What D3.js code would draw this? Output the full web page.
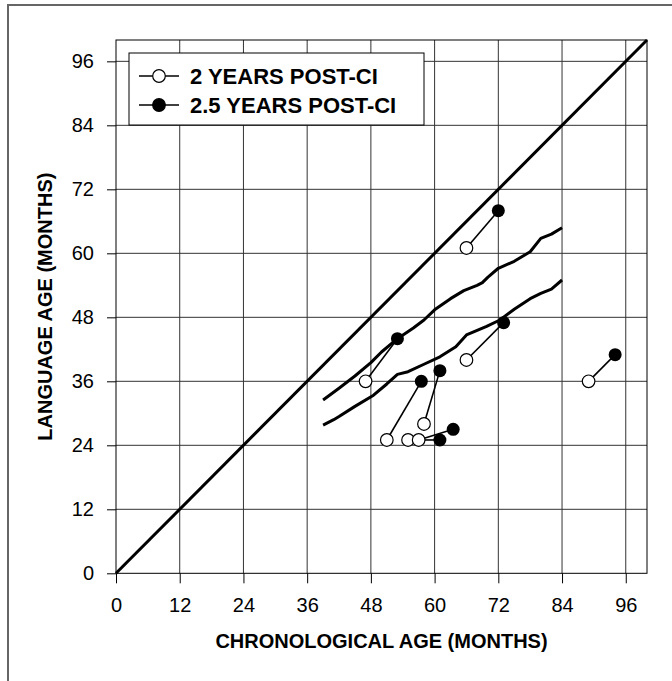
<!DOCTYPE html>
<html>
<head>
<meta charset="utf-8">
<script src="https://cdn.jsdelivr.net/npm/d3@7"></script>
<style>
  body { margin: 0; background: #fff; }
  svg text { font-family: "Liberation Sans", Arial, sans-serif; fill: #000; }
</style>
</head>
<body>
<div id="chart"></div>
<script>
// ticks shared by both axes (months)
const tickMonths = [0, 12, 24, 36, 48, 60, 72, 84, 96];

// each child: 2 years post-CI (open) and 2.5 years post-CI (filled)
const chronAge2yr = [66, 47, 66, 51, 58, 55, 57, 89];
const langAge2yr = [61, 36, 40, 25, 28, 25, 25, 36];
const chronAge25yr = [72, 53, 73, 57.5, 61, 61, 63.5, 94];
const langAge25yr = [68, 44, 47, 36, 38, 25, 27, 41];

// normative band (upper and lower curves)
const upperCurveAge = [39, 42, 45, 48, 50, 53, 56, 58, 60, 63, 65.5, 68, 69, 70, 72, 75, 78, 80, 82, 84];
const upperCurveLang = [32.5, 34.7, 37, 39.5, 41.5, 44, 46, 47.5, 49.4, 51.5, 53, 54, 54.5, 55.5, 57.2, 58.5, 60.3, 62.8, 63.6, 64.8];
const lowerCurveAge = [39, 41, 42, 45, 48.5, 51, 53, 55, 58, 61, 64, 66, 69.8, 72.3, 75, 78, 80, 82, 84];
const lowerCurveLang = [27.8, 28.8, 29.4, 31.3, 33.4, 35.5, 37.3, 37.8, 39.2, 40.6, 42.5, 44.7, 46.3, 47.5, 49.5, 51.5, 52.5, 53.3, 55];

const legendLabels = ["2 YEARS POST-CI", "2.5 YEARS POST-CI"];

class LanguageAgePlot {
    constructor(parentElement) {
        this.parentElement = parentElement;
        this.initVis();
    }

    initVis() {
        let vis = this;
        vis.width = 672;
        vis.height = 681;

        vis.svg = d3.select("#" + vis.parentElement)
            .append("svg")
            .attr("width", vis.width)
            .attr("height", vis.height);

        // outer frame (only top and left show)
        vis.svg.append("path")
            .attr("d", "M8,681 V5 H672")
            .attr("fill", "none")
            .attr("stroke", "#666")
            .attr("stroke-width", 2);

        vis.x = d3.scaleLinear().domain([0, 100]).range([116, 647]);
        vis.y = d3.scaleLinear().domain([0, 100]).range([573.3, 40]);

        vis.drawFrame();
        vis.drawData();
        vis.drawLegend();
    }

    drawFrame() {
        let vis = this;
        let grid = vis.svg.append("g").attr("class", "grid");

        grid.selectAll(".vgrid")
            .data(tickMonths.slice(1))
            .enter().append("line")
            .attr("x1", d => vis.x(d)).attr("x2", d => vis.x(d))
            .attr("y1", vis.y(0)).attr("y2", vis.y(100))
            .attr("stroke", "#333").attr("stroke-width", 1);

        grid.selectAll(".hgrid")
            .data(tickMonths.slice(1))
            .enter().append("line")
            .attr("y1", d => vis.y(d)).attr("y2", d => vis.y(d))
            .attr("x1", vis.x(0)).attr("x2", vis.x(100))
            .attr("stroke", "#333").attr("stroke-width", 1);

        vis.svg.append("rect")
            .attr("x", vis.x(0)).attr("y", vis.y(100))
            .attr("width", vis.x(100) - vis.x(0))
            .attr("height", vis.y(0) - vis.y(100))
            .attr("fill", "none")
            .attr("stroke", "#000").attr("stroke-width", 1);

        let xAxis = vis.svg.append("g")
            .attr("transform", "translate(0," + vis.y(0) + ")")
            .call(d3.axisBottom(vis.x).tickValues(tickMonths).tickSize(10).tickPadding(15).tickSizeOuter(0));
        let yAxis = vis.svg.append("g")
            .attr("transform", "translate(" + vis.x(0) + ",0)")
            .call(d3.axisLeft(vis.y).tickValues(tickMonths).tickSize(9).tickPadding(13).tickSizeOuter(0));

        [xAxis, yAxis].forEach(a => {
            a.select(".domain").remove();
            a.selectAll(".tick line").attr("stroke", "#000");
            a.selectAll("text")
                .style("font-family", "'Liberation Sans', Arial, sans-serif")
                .style("font-size", "20px");
        });

        vis.svg.append("text")
            .attr("x", (vis.x(0) + vis.x(100)) / 2)
            .attr("y", 648)
            .attr("text-anchor", "middle")
            .style("font-size", "20px")
            .style("font-weight", "bold")
            .text("CHRONOLOGICAL AGE (MONTHS)");

        vis.svg.append("text")
            .attr("transform", "translate(52," + ((vis.y(0) + vis.y(100)) / 2) + ") rotate(-90)")
            .attr("text-anchor", "middle")
            .style("font-size", "20px")
            .style("font-weight", "bold")
            .text("LANGUAGE AGE (MONTHS)");
    }

    drawData() {
        let vis = this;
        let line = d3.line().x(d => vis.x(d[0])).y(d => vis.y(d[1]));

        // age-equivalent diagonal
        vis.svg.append("path")
            .attr("d", line([[0, 0], [100, 100]]))
            .attr("fill", "none").attr("stroke", "#000").attr("stroke-width", 3);

        let upper = upperCurveAge.map((a, i) => [a, upperCurveLang[i]]);
        let lower = lowerCurveAge.map((a, i) => [a, lowerCurveLang[i]]);
        [upper, lower].forEach(c => {
            vis.svg.append("path")
                .attr("d", line(c))
                .attr("fill", "none").attr("stroke", "#000")
                .attr("stroke-width", 3).attr("stroke-linejoin", "round");
        });

        let kids = chronAge2yr.map((a, i) => ({
            a2: a, l2: langAge2yr[i], a25: chronAge25yr[i], l25: langAge25yr[i]
        }));

        vis.svg.selectAll(".link")
            .data(kids).enter().append("line")
            .attr("x1", d => vis.x(d.a2)).attr("y1", d => vis.y(d.l2))
            .attr("x2", d => vis.x(d.a25)).attr("y2", d => vis.y(d.l25))
            .attr("stroke", "#000").attr("stroke-width", 1.6);

        vis.svg.selectAll(".open-dot")
            .data(kids).enter().append("circle")
            .attr("cx", d => vis.x(d.a2)).attr("cy", d => vis.y(d.l2))
            .attr("r", 6.3)
            .attr("fill", "#fff").attr("stroke", "#000").attr("stroke-width", 1.2);

        vis.svg.selectAll(".filled-dot")
            .data(kids).enter().append("circle")
            .attr("cx", d => vis.x(d.a25)).attr("cy", d => vis.y(d.l25))
            .attr("r", 6.5)
            .attr("fill", "#000");
    }

    drawLegend() {
        let vis = this;
        let g = vis.svg.append("g").attr("transform", "translate(129,53)");
        g.append("rect")
            .attr("width", 295).attr("height", 72)
            .attr("fill", "#fff").attr("stroke", "#000").attr("stroke-width", 1);

        let rows = g.selectAll(".row")
            .data(legendLabels).enter().append("g")
            .attr("transform", (d, i) => "translate(0," + (23 + i * 29) + ")");

        rows.append("line")
            .attr("x1", 10).attr("x2", 50)
            .attr("stroke", "#000").attr("stroke-width", 1.6);
        rows.append("circle")
            .attr("cx", 30).attr("r", 6.3)
            .attr("fill", (d, i) => i === 0 ? "#fff" : "#000")
            .attr("stroke", "#000").attr("stroke-width", 1.2);
        rows.append("text")
            .attr("x", 61).attr("dy", "0.36em")
            .style("font-size", "22px")
            .style("font-weight", "bold")
            .text(d => d);
    }
}

new LanguageAgePlot("chart");
</script>
</body>
</html>
